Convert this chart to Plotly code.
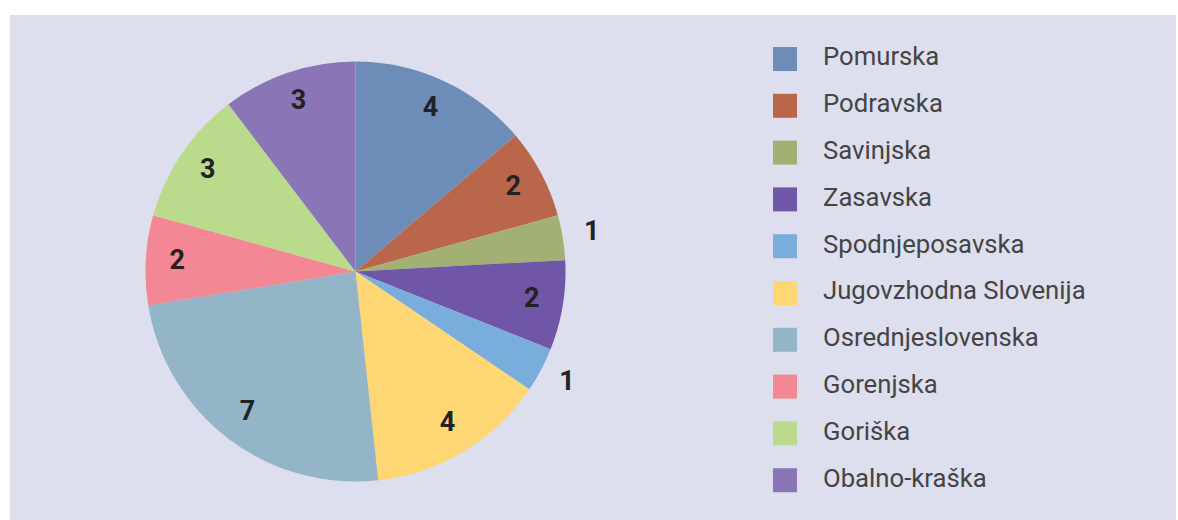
import plotly.graph_objects as go

regions = ["Pomurska", "Podravska", "Savinjska", "Zasavska", "Spodnjeposavska",
           "Jugovzhodna Slovenija", "Osrednjeslovenska", "Gorenjska", "Goriška", "Obalno-kraška"]
counts = [4, 2, 1, 2, 1, 4, 7, 2, 3, 3]
colors = ["#6d8cb8", "#b9664b", "#a2b073", "#6f56a6", "#79addc",
          "#fed673", "#93b5c7", "#f38794", "#badb8b", "#8a76b7"]
label_outside = [False, False, True, False, True, False, False, False, False, False]

W, H = 1178, 520
BG = "#dddfee"
# pie centre (355.5, 271.5) px, radius 210 px; polar range extends to 1.18 radii
CX, CY, R, RMAX = 355.5, 271.5, 210, 1.18
RD = R * RMAX
polar_domain = dict(x=[(CX - RD) / W, (CX + RD) / W],
                    y=[(H - CY - RD) / H, (H - CY + RD) / H])

# slice geometry derived from counts
total = sum(counts)
mid_angles, widths = [], []
acc = 0
for c in counts:
    mid_angles.append((acc + c / 2) / total * 360)
    widths.append(c / total * 360)
    acc += c

fig = go.Figure()

# pie slices as full-radius polar bars
fig.add_trace(go.Barpolar(
    r=[1] * len(counts), theta=mid_angles, width=widths,
    marker=dict(color=colors, line=dict(width=0)),
    showlegend=False, hoverinfo="skip",
))

label_r = [1.14 if o else 0.85 for o in label_outside]
fig.add_trace(go.Scatterpolar(
    r=label_r, theta=mid_angles, mode="text", text=[str(c) for c in counts],
    textposition="middle center",
    textfont=dict(family="Roboto", size=27, color="#222222", weight=700),
    showlegend=False, hoverinfo="skip", cliponaxis=False,
))

# legend built as a scatter on hidden pixel-scaled axes
idx = list(range(len(regions)))
fig.add_trace(go.Scatter(
    x=[0] * len(regions), y=idx, mode="markers",
    marker=dict(symbol="square", size=24, color=colors, line=dict(width=0)),
    showlegend=False, hoverinfo="skip",
))
fig.add_trace(go.Scatter(
    x=[38] * len(regions), y=idx, mode="text", text=regions, textposition="middle right",
    textfont=dict(family="Roboto", size=25.7, color="#444444"),
    showlegend=False, hoverinfo="skip",
))

x0 = 785
step = 46.8
top_center = 59
y_top = -top_center / step
y_bot = (H - top_center) / step
fig.update_layout(
    width=W, height=H, margin=dict(l=0, r=0, t=0, b=0),
    paper_bgcolor="white", plot_bgcolor="rgba(0,0,0,0)",
    xaxis=dict(domain=[0, 1], range=[-x0, W - x0], visible=False, fixedrange=True),
    yaxis=dict(domain=[0, 1], range=[y_bot, y_top], visible=False, fixedrange=True),
    polar=dict(
        domain=polar_domain, bgcolor="rgba(0,0,0,0)", hole=0, bargap=0,
        radialaxis=dict(visible=False, range=[0, RMAX], showgrid=False),
        angularaxis=dict(visible=False, direction="clockwise", rotation=90, showgrid=False),
    ),
    shapes=[dict(type="rect", xref="paper", yref="paper", x0=10 / W, x1=1176 / W,
                 y0=0, y1=(H - 15) / H, fillcolor=BG, line=dict(width=0), layer="below")],
)

fig.write_html("out.html")
